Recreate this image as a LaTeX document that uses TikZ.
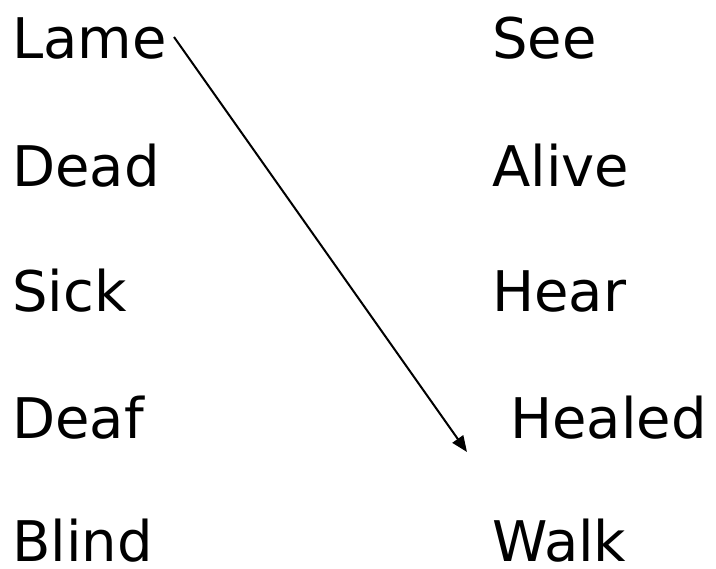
\documentclass[tikz,border=0pt]{standalone}
\usepackage{fontspec}
\setmainfont{DejaVu Sans}
\usetikzlibrary{arrows.meta}
\begin{document}
\begin{tikzpicture}[x=1pt,y=-1pt,
  word/.style={anchor=base west,inner sep=0pt,text depth=0pt,font=\fontsize{56}{60}\selectfont}]
\useasboundingbox (0,0) rectangle (716,569);
\node[word] (lame) at (12,59) {Lame};
\node[word] (dead) at (12,187) {Dead};
\node[word] (sick) at (12,312) {Sick};
\node[word] (deaf) at (12,439) {Deaf};
\node[word] (blind) at (12,562) {Blind};
\node[word] (see) at (492,59) {See};
\node[word] (alive) at (492,187) {Alive};
\node[word] (hear) at (492,312) {Hear};
\node[word] (healed) at (510,439) {Healed};
\node[word] (walk) at (492,562) {Walk};
\coordinate (a1) at (174,37);
\coordinate (a2) at (467,452);
\draw[line width=2pt,-{Triangle[length=16pt,width=13pt]}] (a1) -- (a2);
\end{tikzpicture}
\end{document}
